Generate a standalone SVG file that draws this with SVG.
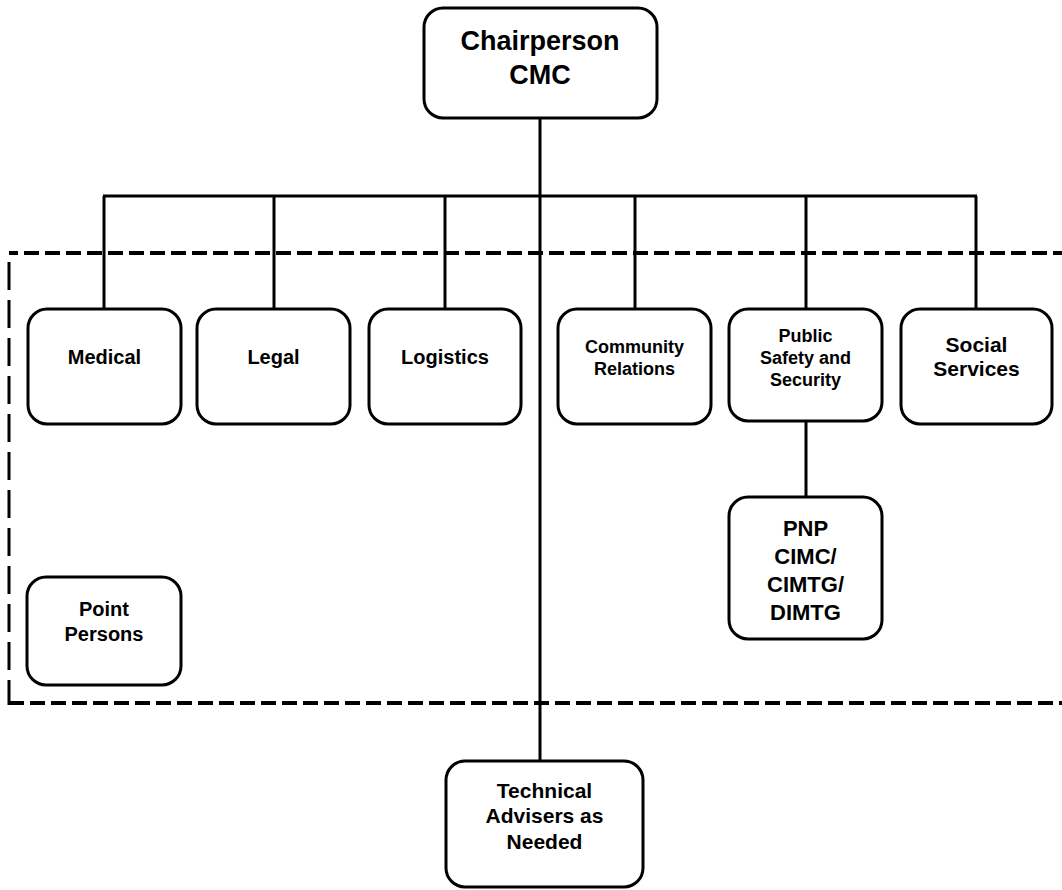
<svg xmlns="http://www.w3.org/2000/svg" width="1062" height="890" viewBox="0 0 1062 890">
<style>
.box{fill:#fff;stroke:#000;stroke-width:3}
.ln{stroke:#000;stroke-width:3;fill:none}
.dh{stroke:#000;stroke-width:4;fill:none;stroke-dasharray:15 6}
.dv{stroke:#000;stroke-width:3;fill:none;stroke-dasharray:28 10}
text{font-family:"Liberation Sans",Arial,sans-serif;font-weight:bold;fill:#000;text-anchor:middle}
.t26{font-size:27px}.t18{font-size:18px}.t20{font-size:20px}.t21{font-size:21px}.t22{font-size:22px}
</style>
<rect width="1062" height="890" fill="#fff"/>
<g id="boundary">
<line class="dh" x1="9" y1="253" x2="1062" y2="253" stroke-dashoffset="6"/>
<line class="dh" x1="9" y1="703" x2="1062" y2="703"/>
<line class="dv" x1="9" y1="262" x2="9" y2="705"/>
</g>
<g id="connectors">
<line class="ln" x1="540" y1="118" x2="540" y2="761"/>
<line class="ln" x1="103" y1="196" x2="977" y2="196"/>
<line class="ln" x1="104" y1="196" x2="104" y2="309"/>
<line class="ln" x1="274" y1="196" x2="274" y2="309"/>
<line class="ln" x1="445" y1="196" x2="445" y2="309"/>
<line class="ln" x1="635" y1="196" x2="635" y2="309"/>
<line class="ln" x1="806" y1="196" x2="806" y2="309"/>
<line class="ln" x1="976" y1="196" x2="976" y2="309"/>
<line class="ln" x1="806" y1="421" x2="806" y2="497"/>
</g>
<g id="chair">
<rect class="box" x="424" y="8" width="233" height="110" rx="19"/>
<text class="t26" x="540" y="50">Chairperson</text>
<text class="t26" x="540" y="84">CMC</text>
</g>
<g id="medical">
<rect class="box" x="28" y="309" width="153" height="115" rx="19"/>
<text class="t20" x="104.5" y="364">Medical</text>
</g>
<g id="legal">
<rect class="box" x="197" y="309" width="153" height="115" rx="19"/>
<text class="t20" x="273.5" y="364">Legal</text>
</g>
<g id="logistics">
<rect class="box" x="369" y="309" width="152" height="115" rx="19"/>
<text class="t20" x="445" y="364">Logistics</text>
</g>
<g id="community">
<rect class="box" x="558" y="309" width="153" height="115" rx="19"/>
<text class="t18" x="634.5" y="353">Community</text>
<text class="t18" x="634.5" y="375">Relations</text>
</g>
<g id="safety">
<rect class="box" x="729" y="309" width="153" height="112" rx="19"/>
<text class="t18" x="805.5" y="342">Public</text>
<text class="t18" x="805.5" y="364">Safety and</text>
<text class="t18" x="805.5" y="386">Security</text>
</g>
<g id="social">
<rect class="box" x="901" y="309" width="151" height="115" rx="19"/>
<text class="t21" x="976.5" y="352">Social</text>
<text class="t21" x="976.5" y="376">Services</text>
</g>
<g id="pnp">
<rect class="box" x="729" y="497" width="153" height="142" rx="19"/>
<text class="t22" x="805.5" y="536">PNP</text>
<text class="t22" x="805.5" y="564">CIMC/</text>
<text class="t22" x="805.5" y="592">CIMTG/</text>
<text class="t22" x="805.5" y="620">DIMTG</text>
</g>
<g id="point">
<rect class="box" x="27" y="577" width="154" height="108" rx="19"/>
<text class="t20" x="104" y="616">Point</text>
<text class="t20" x="104" y="641">Persons</text>
</g>
<g id="technical">
<rect class="box" x="446" y="761" width="197" height="126" rx="19"/>
<text class="t21" x="544.5" y="798">Technical</text>
<text class="t21" x="544.5" y="823">Advisers as</text>
<text class="t21" x="544.5" y="849">Needed</text>
</g>
</svg>
